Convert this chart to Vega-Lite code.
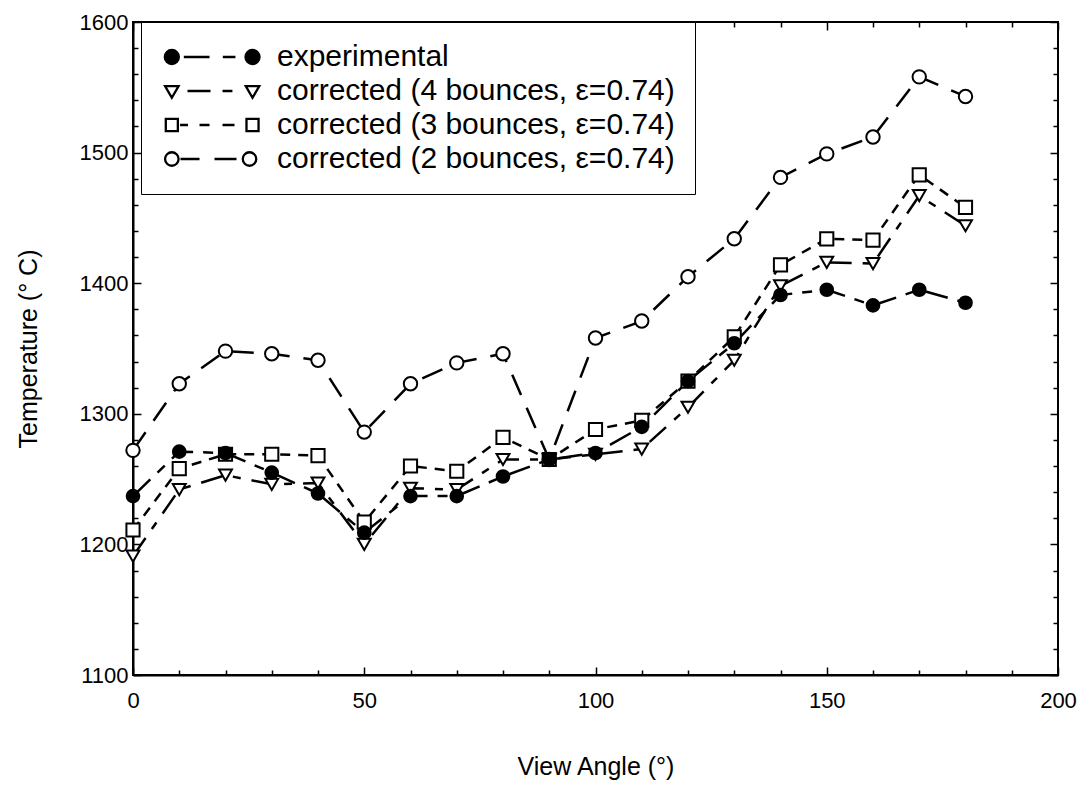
{
  "$schema": "https://vega.github.io/schema/vega-lite/v6.json",
  "width": 925,
  "height": 653,
  "autosize": {"type": "none"},
  "padding": {"left": 133, "top": 22, "right": 24, "bottom": 118},
  "background": "white",
  "datasets": {
    "pts": [
      {"s":"b2","a":0,"T":1272},{"s":"b2","a":10,"T":1323},{"s":"b2","a":20,"T":1348},{"s":"b2","a":30,"T":1346},{"s":"b2","a":40,"T":1341},{"s":"b2","a":50,"T":1286},{"s":"b2","a":60,"T":1323},{"s":"b2","a":70,"T":1339},{"s":"b2","a":80,"T":1346},{"s":"b2","a":90,"T":1265},{"s":"b2","a":100,"T":1358},{"s":"b2","a":110,"T":1371},{"s":"b2","a":120,"T":1405},{"s":"b2","a":130,"T":1434},{"s":"b2","a":140,"T":1481},{"s":"b2","a":150,"T":1499},{"s":"b2","a":160,"T":1512},{"s":"b2","a":170,"T":1558},{"s":"b2","a":180,"T":1543},
      {"s":"b3","a":0,"T":1211},{"s":"b3","a":10,"T":1258},{"s":"b3","a":20,"T":1269},{"s":"b3","a":30,"T":1269},{"s":"b3","a":40,"T":1268},{"s":"b3","a":50,"T":1217},{"s":"b3","a":60,"T":1260},{"s":"b3","a":70,"T":1256},{"s":"b3","a":80,"T":1282},{"s":"b3","a":90,"T":1265},{"s":"b3","a":100,"T":1288},{"s":"b3","a":110,"T":1295},{"s":"b3","a":120,"T":1325},{"s":"b3","a":130,"T":1359},{"s":"b3","a":140,"T":1414},{"s":"b3","a":150,"T":1434},{"s":"b3","a":160,"T":1433},{"s":"b3","a":170,"T":1483},{"s":"b3","a":180,"T":1458},
      {"s":"b4","a":0,"T":1191},{"s":"b4","a":10,"T":1242},{"s":"b4","a":20,"T":1253},{"s":"b4","a":30,"T":1246},{"s":"b4","a":40,"T":1247},{"s":"b4","a":50,"T":1200},{"s":"b4","a":60,"T":1243},{"s":"b4","a":70,"T":1242},{"s":"b4","a":80,"T":1265},{"s":"b4","a":90,"T":1265},{"s":"b4","a":100,"T":1269},{"s":"b4","a":110,"T":1273},{"s":"b4","a":120,"T":1305},{"s":"b4","a":130,"T":1341},{"s":"b4","a":140,"T":1398},{"s":"b4","a":150,"T":1416},{"s":"b4","a":160,"T":1415},{"s":"b4","a":170,"T":1467},{"s":"b4","a":180,"T":1444},
      {"s":"exp","a":0,"T":1237},{"s":"exp","a":10,"T":1271},{"s":"exp","a":20,"T":1270},{"s":"exp","a":30,"T":1255},{"s":"exp","a":40,"T":1239},{"s":"exp","a":50,"T":1209},{"s":"exp","a":60,"T":1237},{"s":"exp","a":70,"T":1237},{"s":"exp","a":80,"T":1252},{"s":"exp","a":90,"T":1265},{"s":"exp","a":100,"T":1270},{"s":"exp","a":110,"T":1290},{"s":"exp","a":120,"T":1325},{"s":"exp","a":130,"T":1354},{"s":"exp","a":140,"T":1391},{"s":"exp","a":150,"T":1395},{"s":"exp","a":160,"T":1383},{"s":"exp","a":170,"T":1395},{"s":"exp","a":180,"T":1385}
    ]
  },
  "data": {"name": "pts"},
  "config": {
    "view": {"stroke": "black", "strokeWidth": 2},
    "axis": {
      "labelFont": "Liberation Sans", "labelFontSize": 22, "labelColor": "black",
      "titleFont": "Liberation Sans", "titleFontSize": 25, "titleFontWeight": "normal", "titleColor": "black",
      "tickColor": "black", "tickWidth": 1.5, "domainColor": "black", "domainWidth": 2,
      "grid": false, "labelFlush": false, "labelOverlap": false, "labelBound": false
    },
    "legend": {"labelFont": "Liberation Sans", "labelFontSize": 30, "labelColor": "black"}
  },
  "layer": [
    {
      "layer": [
        {
          "mark": {"type": "line", "color": "black", "strokeWidth": 2.5},
          "encoding": {
            "x": {"field": "a", "type": "quantitative", "scale": {"domain": [0, 200], "nice": false},
              "axis": {"title": "View Angle (°)", "format": "d", "labelOverlap": false, "labelFlush": false,
                "values": [0, 50, 100, 150, 200], "tickSize": -8,
                "labelPadding": 23, "titlePadding": 43}},
            "y": {"field": "T", "type": "quantitative", "scale": {"domain": [1100, 1600], "nice": false, "zero": false},
              "axis": {"title": "Temperature (° C)", "format": "d", "labelOverlap": false, "labelFlush": false,
                "values": [1100, 1200, 1300, 1400, 1500, 1600], "tickSize": -8,
                "labelPadding": 13, "titlePadding": 38}},
            "strokeDash": {"field": "s", "type": "nominal",
              "scale": {"range": [[22, 14], [10, 8], [22, 11, 8, 11], [24, 10, 10, 10]]},
              "legend": null}
          }
        },
        {
          "mark": {"type": "point", "filled": true, "stroke": "black", "strokeWidth": 2, "opacity": 1},
          "encoding": {
            "x": {"field": "a", "type": "quantitative"},
            "y": {"field": "T", "type": "quantitative"},
            "shape": {"field": "s", "type": "nominal",
              "scale": {"range": ["circle", "square", "triangle-down", "circle"]},
              "legend": null},
            "fill": {"field": "s", "type": "nominal",
              "scale": {"range": ["white", "white", "white", "black"]},
              "legend": null},
            "size": {"field": "s", "type": "nominal",
              "scale": {"range": [180, 160, 170, 200]},
              "legend": null}
          }
        },
        {
          "mark": {"type": "point", "filled": true, "opacity": 0},
          "encoding": {
            "x": {"field": "a", "type": "quantitative"},
            "y": {"field": "T", "type": "quantitative"},
            "shape": {"field": "s", "type": "nominal",
              "scale": {"domain": ["exp", "b4", "b3", "b2"],
                "range": [
                  "M-1.244,0A0.78,0.78 0 1,0 0.316,0A0.78,0.78 0 1,0 -1.244,0ZM7.722,0A0.78,0.78 0 1,0 9.282,0A0.78,0.78 0 1,0 7.722,0ZM0.869,0L3.724,0M5.202,0L6.602,0",
                  "M-1.214,-0.55L0.286,-0.55L-0.464,0.75ZM7.752,-0.55L9.252,-0.55L8.502,0.75ZM1.28,0L3.836,0M5.169,0L6.269,0",
                  "M-1.134,-0.67H0.206V0.67H-1.134ZM7.832,-0.67H9.172V0.67H7.832ZM0.45,0L1.33,0M2.613,0L3.724,0M5.169,0L6.502,0",
                  "M-1.214,0A0.75,0.75 0 1,0 0.286,0A0.75,0.75 0 1,0 -1.214,0ZM7.419,0A0.75,0.75 0 1,0 8.919,0A0.75,0.75 0 1,0 7.419,0ZM0.5,0L2.613,0M4.28,0L6.724,0"
                ]},
              "legend": {
                "title": null, "orient": "none", "legendX": 8, "legendY": 0,
                "padding": 20, "strokeColor": "black", "fillColor": "white",
                "rowPadding": 4, "labelOffset": 86, "labelLimit": 800, "symbolSize": 324,
                "symbolOpacity": 1, "symbolStrokeWidth": 2.3,
                "labelExpr": "datum.value === 'exp' ? 'experimental' : datum.value === 'b4' ? 'corrected (4 bounces, ε=0.74)' : datum.value === 'b3' ? 'corrected (3 bounces, ε=0.74)' : 'corrected (2 bounces, ε=0.74)'"
              }},
            "fill": {"field": "s", "type": "nominal",
              "scale": {"domain": ["exp", "b4", "b3", "b2"], "range": ["black", "white", "white", "white"]},
              "legend": {
                "title": null, "orient": "none", "legendX": 8, "legendY": 0,
                "padding": 20, "strokeColor": "black", "fillColor": "white",
                "rowPadding": 4, "labelOffset": 86, "labelLimit": 800, "symbolSize": 324,
                "symbolOpacity": 1, "symbolStrokeWidth": 2.3,
                "labelExpr": "datum.value === 'exp' ? 'experimental' : datum.value === 'b4' ? 'corrected (4 bounces, ε=0.74)' : datum.value === 'b3' ? 'corrected (3 bounces, ε=0.74)' : 'corrected (2 bounces, ε=0.74)'"
              }},
            "stroke": {"field": "s", "type": "nominal",
              "scale": {"domain": ["exp", "b4", "b3", "b2"], "range": ["black", "black", "black", "black"]},
              "legend": {
                "title": null, "orient": "none", "legendX": 8, "legendY": 0,
                "padding": 20, "strokeColor": "black", "fillColor": "white",
                "rowPadding": 4, "labelOffset": 86, "labelLimit": 800, "symbolSize": 324,
                "symbolOpacity": 1, "symbolStrokeWidth": 2.3,
                "labelExpr": "datum.value === 'exp' ? 'experimental' : datum.value === 'b4' ? 'corrected (4 bounces, ε=0.74)' : datum.value === 'b3' ? 'corrected (3 bounces, ε=0.74)' : 'corrected (2 bounces, ε=0.74)'"
              }}
          }
        }
      ],
      "resolve": {"scale": {"shape": "independent", "fill": "independent", "stroke": "independent"}}
    },
    {
      "mark": {"type": "point", "opacity": 0},
      "encoding": {
        "x": {"field": "a", "type": "quantitative",
          "axis": {"orient": "bottom", "title": null, "labels": false, "domain": false,
            "values": [10,20,30,40,60,70,80,90,110,120,130,140,160,170,180,190], "tickSize": -5}},
        "y": {"field": "T", "type": "quantitative",
          "axis": {"orient": "left", "title": null, "labels": false, "domain": false,
            "values": [1120,1140,1160,1180,1220,1240,1260,1280,1320,1340,1360,1380,1420,1440,1460,1480,1520,1540,1560,1580], "tickSize": -5}}
      }
    },
    {
      "mark": {"type": "point", "opacity": 0},
      "encoding": {
        "x": {"field": "a", "type": "quantitative",
          "axis": {"orient": "top", "title": null, "labels": false, "domain": false,
            "values": [0, 50, 100, 150, 200], "tickSize": -8}},
        "y": {"field": "T", "type": "quantitative",
          "axis": {"orient": "right", "title": null, "labels": false, "domain": false,
            "values": [1100, 1200, 1300, 1400, 1500, 1600], "tickSize": -8}}
      }
    },
    {
      "mark": {"type": "point", "opacity": 0},
      "encoding": {
        "x": {"field": "a", "type": "quantitative",
          "axis": {"orient": "top", "title": null, "labels": false, "domain": false,
            "values": [10,20,30,40,60,70,80,90,110,120,130,140,160,170,180,190], "tickSize": -5}},
        "y": {"field": "T", "type": "quantitative",
          "axis": {"orient": "right", "title": null, "labels": false, "domain": false,
            "values": [1120,1140,1160,1180,1220,1240,1260,1280,1320,1340,1360,1380,1420,1440,1460,1480,1520,1540,1560,1580], "tickSize": -5}}
      }
    }
  ],
  "resolve": {"axis": {"x": "independent", "y": "independent"}}
}
